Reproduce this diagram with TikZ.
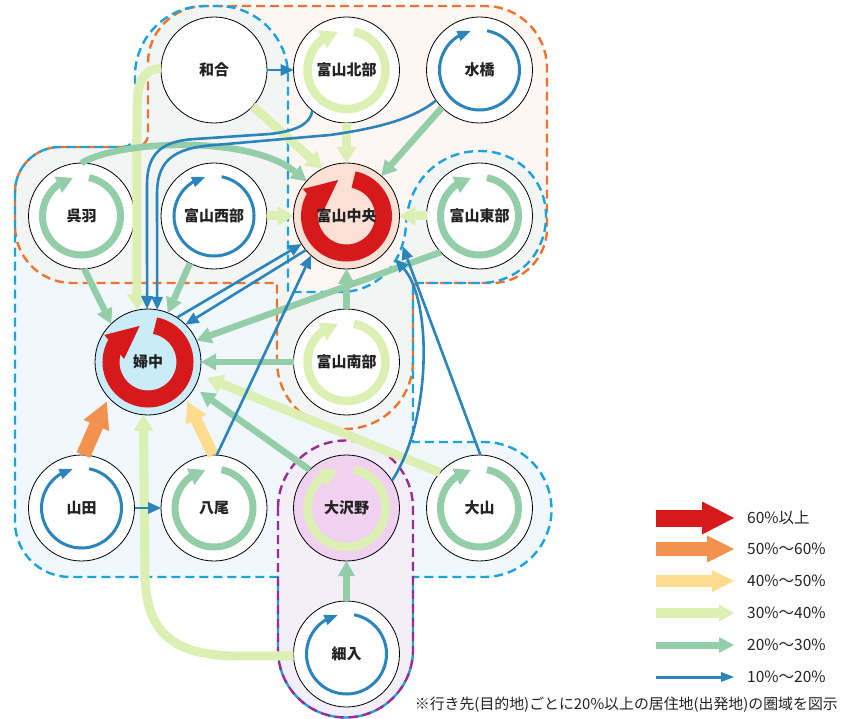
\documentclass[tikz,border=0pt]{standalone}
\usepackage{fontspec}
\newfontfamily\jp{Noto Sans CJK JP}
\usetikzlibrary{arrows.meta,calc}
\definecolor{cred}{HTML}{D7191C}
\definecolor{corange}{HTML}{F3914F}
\definecolor{cyellow}{HTML}{FDDB8F}
\definecolor{clgreen}{HTML}{DCF0B4}
\definecolor{cgreen}{HTML}{94CEA8}
\definecolor{cblue}{HTML}{2B84BB}
\definecolor{dorangec}{HTML}{EC7430}
\definecolor{dbluec}{HTML}{1BA3DC}
\definecolor{dpurplec}{HTML}{9C2B92}
\definecolor{fblue}{HTML}{F0F8FD}
\definecolor{forange}{HTML}{FDF6F3}
\definecolor{fgray}{HTML}{F3F5F5}
\definecolor{fpurple}{HTML}{F2EFF9}
\definecolor{nchuo}{HTML}{FBE1D5}
\definecolor{nfuchu}{HTML}{C9ECF8}
\definecolor{nosawano}{HTML}{F0D1EF}
\definecolor{txt}{HTML}{222222}

\newcommand{\orangeshape}{(15,192) arc[start angle=180,end angle=270,radius=45] -- (136,147) arc[start angle=90,end angle=0,radius=12] -- (148,63) arc[start angle=180,end angle=270,radius=57] -- (485,6) arc[start angle=270,end angle=360,radius=62] -- (547,228) arc[start angle=0,end angle=90,radius=55] -- (419,283) arc[start angle=270,end angle=180,radius=6] -- (413,361) arc[start angle=0,end angle=180,radius=68] -- (277,283) -- (72,283) arc[start angle=90,end angle=180,radius=57] -- cycle}
\newcommand{\blueshape}{(15,192) arc[start angle=180,end angle=270,radius=45] -- (123,147) arc[start angle=90,end angle=0,radius=12] -- (135,76) arc[start angle=180,end angle=270,radius=70] -- (218,6) arc[start angle=270,end angle=360,radius=70] -- (288,292) -- (340,292) .. controls (378,292) and (404,262) .. (406,225) .. controls (408,180) and (440,151) .. (480,151) .. controls (518,151) and (546,180) .. (546,216) .. controls (546,254) and (518,283) .. (480,283) -- (413,283) -- (413,442) -- (484,442) arc[start angle=270,end angle=450,radius=67.5] -- (413,577) -- (413,650) arc[start angle=0,end angle=180,radius=67.5] -- (278,577) -- (70,577) arc[start angle=90,end angle=180,radius=55] -- cycle}
\newcommand{\purpleshape}{(278,508) arc[start angle=180,end angle=360,radius=67.5] -- (413,650) arc[start angle=0,end angle=180,radius=67.5] -- cycle}

\newcommand{\loopring}[6]{%
  \pgfmathsetmacro{\lpd}{2*asin(#6/(2*#4))}%
  \pgfmathsetmacro{\lpb}{257-\lpd}%
  \pgfmathsetmacro{\lpe}{\lpb+0.25*\lpd}%
  \pgfmathsetmacro{\lphw}{#5/2}%
  \draw[#2, line width=#3pt] ($(#1.center)+(-79:#4)$) arc[start angle=-79, end angle=\lpe, radius=#4];
  \coordinate (lpT) at ($(#1.center)+(257:#4)$);
  \coordinate (lpB) at ($(#1.center)+(\lpb:#4)$);
  \fill[#2] (lpT) -- ($(lpB)!\lphw pt!90:(lpT)$) -- ($(lpB)!\lphw pt!-90:(lpT)$) -- cycle;
}
\newcommand{\ringred}[1]{\loopring{#1}{cred}{17}{37}{31}{33}}
\newcommand{\ringlg}[1]{\loopring{#1}{clgreen}{8.5}{39}{20}{17}}
\newcommand{\ringgr}[1]{\loopring{#1}{cgreen}{7}{39}{18}{16}}
\newcommand{\ringbl}[1]{\loopring{#1}{cblue}{3}{40}{11}{13}}

\tikzset{
  city/.style={circle, draw=black, line width=0.8pt, fill=white, minimum size=106pt, inner sep=0pt, outer sep=0pt},
  lbl/.style={font={\jp\bfseries\fontsize{15}{18}\selectfont}, text=txt, inner sep=0pt},
  legtxt/.style={font={\jp\fontsize{15.5}{18}\selectfont}, text=txt, inner sep=0pt, anchor=west},
  dor/.style={draw=dorangec, line width=2.4pt, dash pattern=on 9pt off 5pt},
  dbl/.style={draw=dbluec, line width=2.4pt, dash pattern=on 9pt off 5pt, dash phase=7pt},
  dpu/.style={draw=dpurplec, line width=2.4pt, dash pattern=on 9pt off 5pt},
  a10/.style={cblue, line width=2.6pt, -{Triangle[width=12pt,length=13pt,line width=0pt]}},
  a20/.style={cgreen, line width=6.5pt, -{Triangle[width=17pt,length=15pt,line width=0pt]}},
  a30/.style={clgreen, line width=9pt, -{Triangle[width=20pt,length=16pt,line width=0pt]}},
  a40/.style={cyellow, line width=11.5pt, -{Triangle[width=23pt,length=20pt,line width=0pt]}},
  a50/.style={corange, line width=14.5pt, -{Triangle[width=28pt,length=26pt,line width=0pt]}},
}

\begin{document}
\begin{tikzpicture}[x=1pt,y=-1pt]
\useasboundingbox (0,0) rectangle (844,719);
% region fills
\fill[fblue] \blueshape;
\fill[forange] \orangeshape;
\begin{scope}
  \clip \blueshape;
  \fill[fgray] \orangeshape;
\end{scope}
\fill[fpurple] \purpleshape;
% region outlines
\draw[dor] \orangeshape;
\draw[dbl] \blueshape;
\draw[dpu] \purpleshape;

% nodes
\node[city] (wago) at (214,70) {};
\node[city] (hokubu) at (346.5,70) {};
\node[city] (mizuhashi) at (479.5,70) {};
\node[city] (kureha) at (81.5,216) {};
\node[city] (seibu) at (214,216) {};
\node[city, fill=nchuo] (chuo) at (346.5,216) {};
\node[city] (tobu) at (479.5,216) {};
\node[city, fill=nfuchu] (fuchu) at (148,362) {};
\node[city] (nanbu) at (346.5,362) {};
\node[city] (yamada) at (81.5,508) {};
\node[city] (yatsuo) at (214,508) {};
\node[city, fill=nosawano] (osawano) at (346.5,508) {};
\node[city] (oyama) at (479.5,508) {};
\node[city] (hosoiri) at (346.5,654) {};

% self-containment rings
\ringlg{hokubu}
\ringbl{mizuhashi}
\ringgr{kureha}
\ringbl{seibu}
\ringred{chuo}
\ringgr{tobu}
\ringred{fuchu}
\ringlg{nanbu}
\ringbl{yamada}
\ringgr{yatsuo}
\ringlg{osawano}
\ringgr{oyama}
\ringbl{hosoiri}

% labels
\node[lbl] (wago-t) at (wago) {和合};
\node[lbl] (hokubu-t) at (hokubu) {富山北部};
\node[lbl] (mizuhashi-t) at (mizuhashi) {水橋};
\node[lbl] (kureha-t) at (kureha) {呉羽};
\node[lbl] (seibu-t) at (seibu) {富山西部};
\node[lbl] (chuo-t) at (chuo) {富山中央};
\node[lbl] (tobu-t) at (tobu) {富山東部};
\node[lbl] (fuchu-t) at (fuchu) {婦中};
\node[lbl] (nanbu-t) at (nanbu) {富山南部};
\node[lbl] (yamada-t) at (yamada) {山田};
\node[lbl] (yatsuo-t) at (yatsuo) {八尾};
\node[lbl] (osawano-t) at (osawano) {大沢野};
\node[lbl] (oyama-t) at (oyama) {大山};
\node[lbl] (hosoiri-t) at (hosoiri) {細入};

% connectors: 30-40%
\draw[a30] (wago.-43) -- (chuo.117);
\draw[a30] (hokubu.south) -- (chuo.north);
\draw[a30] (seibu.east) -- (chuo.west);
\draw[a30] (tobu.west) -- (chuo.east);
\draw[a30, shorten >=8pt] (oyama.138) -- (fuchu.-14);
\draw[a30] (hosoiri.182) -- (235,656) .. controls (165,655) and (146,625) .. (145,575) -- (fuchu.-95);
\draw[a30] (wago.178) .. controls (140,70) and (137,85) .. (137,115) -- (fuchu.102.3);
% 40-50%, 50-60%
\draw[a40, shorten >=3pt] (yatsuo.91) -- (fuchu.-44.7);
\draw[a50, shorten >=4.6pt] (yamada.88) -- (fuchu.222.5);
% 20-30%
\draw[a20] (mizuhashi.225) -- (chuo.49);
\draw[a20] (kureha.north) .. controls (120,140) and (250,135) .. (chuo.139);
\draw[a20] (kureha.-87) -- (fuchu.134);
\draw[a20] (seibu.243) -- (fuchu.68);
\draw[a20] (tobu.223) -- (fuchu.24);
\draw[a20] (nanbu.north) -- (chuo.south);
\draw[a20] (nanbu.west) -- (fuchu.east);
\draw[a20, shorten >=7pt] (osawano.134) -- (fuchu.-29.4);
\draw[a20] (hosoiri.north) -- (osawano.south);
% 10-20%
\draw[a10] (wago.east) -- (hokubu.west);
\draw[a10] (hokubu.230) .. controls (310,125) and (295,131) .. (270,134) -- (195,139) .. controls (160,141) and (147,155) .. (147,185) -- (fuchu.91);
\draw[a10] (mizuhashi.215) .. controls (415,118) and (380,128) .. (330,135) -- (215,145) .. controls (170,148) and (157,163) .. (157,195) -- (fuchu.80.6);
\draw[a10] (fuchu.57) -- (chuo.212);
\draw[a10] (chuo.220) -- (fuchu.45);
\draw[a10] (yatsuo.87) -- (chuo.228);
\draw[a10, shorten >=16pt] (oyama.89.5) -- (chuo.-17);
\draw[a10, shorten >=12pt] (osawano.31) .. controls (432,420) and (432,300) .. (chuo.-40);
\draw[a10] (yamada.east) -- (yatsuo.west);

% legend
\draw[cred, line width=17pt, -{Triangle[width=33pt,length=32pt,line width=0pt]}] (656,518) -- (734,518);
\draw[corange, line width=14.5pt, -{Triangle[width=27pt,length=27pt,line width=0pt]}] (656,549) -- (734,549);
\draw[cyellow, line width=11.5pt, -{Triangle[width=22pt,length=22pt,line width=0pt]}] (656,581) -- (734,581);
\draw[clgreen, line width=9.5pt, -{Triangle[width=17pt,length=15pt,line width=0pt]}] (656,613) -- (734,613);
\draw[cgreen, line width=7pt, -{Triangle[width=16pt,length=15pt,line width=0pt]}] (656,645) -- (734,645);
\draw[cblue, line width=3pt, -{Triangle[width=10pt,length=13pt,line width=0pt]}] (656,677) -- (734,677);
\node[legtxt] (l60) at (747,518) {60\%以上};
\node[legtxt] (l50) at (747,549) {50\%〜60\%};
\node[legtxt] (l40) at (747,581) {40\%〜50\%};
\node[legtxt] (l30) at (747,613) {30\%〜40\%};
\node[legtxt] (l20) at (747,645) {20\%〜30\%};
\node[legtxt] (l10) at (747,677) {10\%〜20\%};
\node[font={\jp\fontsize{14.9}{17}\selectfont}, text=txt, inner sep=0pt, anchor=east] (note) at (838,705) {※行き先(目的地)ごとに20\%以上の居住地(出発地)の圏域を図示};
\end{tikzpicture}
\end{document}
